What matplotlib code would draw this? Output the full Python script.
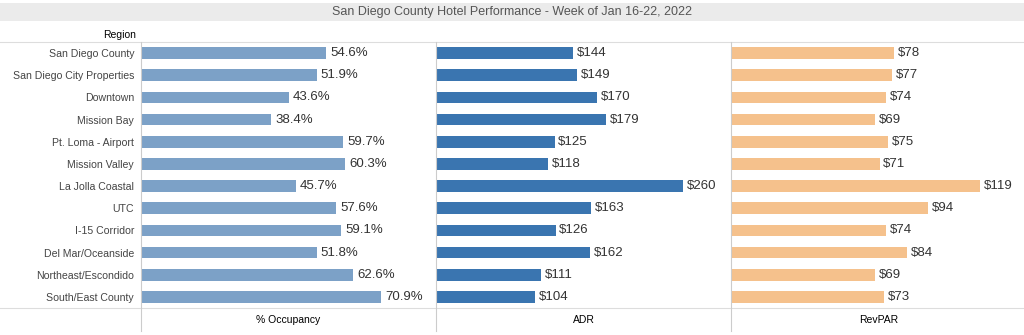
import matplotlib.pyplot as plt
from matplotlib.lines import Line2D
from matplotlib.patches import Rectangle

plt.rcParams["font.family"] = ["Liberation Sans", "DejaVu Sans"]

regions = ["San Diego County", "San Diego City Properties", "Downtown", "Mission Bay",
           "Pt. Loma - Airport", "Mission Valley", "La Jolla Coastal", "UTC",
           "I-15 Corridor", "Del Mar/Oceanside", "Northeast/Escondido", "South/East County"]
occupancy = [54.6, 51.9, 43.6, 38.4, 59.7, 60.3, 45.7, 57.6, 59.1, 51.8, 62.6, 70.9]
adr = [144, 149, 170, 179, 125, 118, 260, 163, 126, 162, 111, 104]
revpar = [78, 77, 74, 69, 75, 71, 119, 94, 74, 84, 69, 73]

W, H = 1024, 335
fig = plt.figure(figsize=(W / 100, H / 100), dpi=100)

# pixel helpers
def fx(px):
    return px / W

def fy(py):
    return 1 - py / H

# title band
fig.patches.append(Rectangle((0, fy(21)), 1, fy(3) - fy(21), transform=fig.transFigure,
                             facecolor="#ebebeb", edgecolor="none", zorder=0))
fig.text(0.5, fy(12), "San Diego County Hotel Performance - Week of Jan 16-22, 2022",
         ha="center", va="center", fontsize=9, color="#555555")
fig.text(fx(136), fy(35), "Region", ha="right", va="center", fontsize=7.5, color="black")

panels = [
    (occupancy, 87.0, "#7ca1c7", lambda v: f"{v:.1f}%", "% Occupancy"),
    (adr, 311.0, "#3a75b0", lambda v: f"${v:.0f}", "ADR"),
    (revpar, 141.0, "#f5c18c", lambda v: f"${v:.0f}", "RevPAR"),
]
lefts = [141, 436, 731]
top, bottom = 42, 308
rows = list(range(len(regions)))

for i, (vals, xmax, color, fmt, label) in enumerate(panels):
    ax = fig.add_axes([fx(lefts[i]), fy(bottom), fx(295), fy(top) - fy(bottom)])
    ax.barh(rows, vals, height=0.53, color=color)
    for r, v in zip(rows, vals):
        ax.text(v + xmax * 0.013, r, fmt(v), va="center", ha="left", fontsize=9.5, color="#333333")
    ax.set_xlim(0, xmax)
    ax.set_ylim(len(regions) - 0.5, -0.5)
    ax.set_xticks([])
    for s in ax.spines.values():
        s.set_visible(False)
    if i == 0:
        ax.set_yticks(rows)
        ax.set_yticklabels(regions, fontsize=7.6, color="#444444")
        ax.tick_params(axis="y", length=0, pad=5)
    else:
        ax.set_yticks([])
    fig.text(fx(lefts[i] + 147.5), fy(320), label, ha="center", va="center", fontsize=7.5, color="black")

# grid lines
for y in (top, bottom):
    fig.add_artist(Line2D([0, 1], [fy(y), fy(y)], color="#dddddd", lw=0.8))
for x in lefts:
    fig.add_artist(Line2D([fx(x), fx(x)], [fy(top), fy(331)], color="#cccccc", lw=0.8))

fig.savefig("out.png", dpi=100)
